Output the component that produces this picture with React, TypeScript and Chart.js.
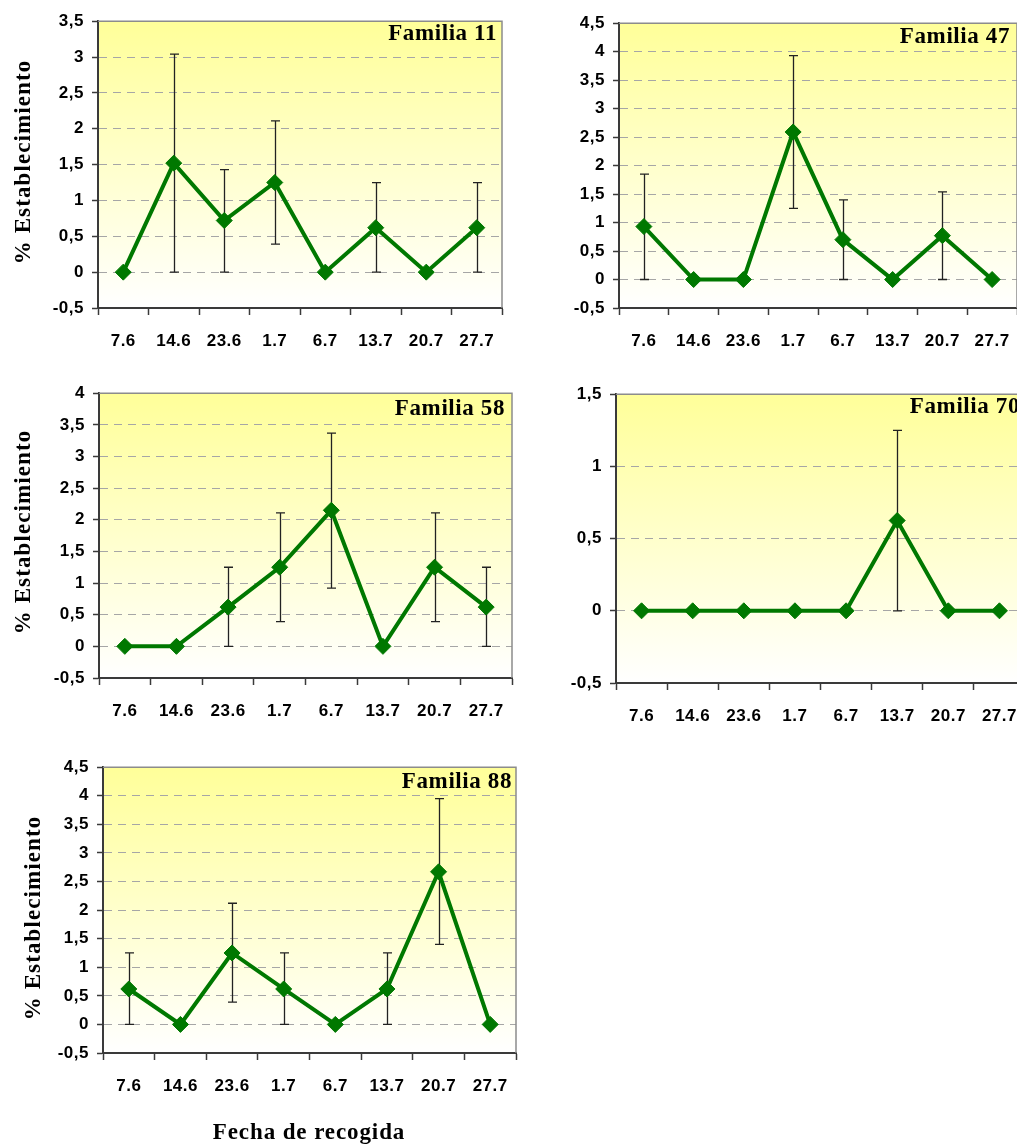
import React, { useEffect, useRef } from "react";
import { Chart, registerables } from "chart.js";
Chart.register(...registerables);

// ---------- DATA ----------
const categories = ["7.6", "14.6", "23.6", "1.7", "6.7", "13.7", "20.7", "27.7"];

const fam11 = [0, 1.52, 0.72, 1.25, 0, 0.62, 0, 0.62];
const fam11Lo = [null, 0, 0, 0.39, null, 0, null, 0];
const fam11Hi = [null, 3.04, 1.43, 2.11, null, 1.25, null, 1.25];

const fam47 = [0.93, 0, 0, 2.59, 0.7, 0, 0.77, 0];
const fam47Lo = [0, null, null, 1.25, 0, null, 0, null];
const fam47Hi = [1.85, null, null, 3.93, 1.4, null, 1.54, null];

const fam58 = [0, 0, 0.62, 1.25, 2.15, 0, 1.25, 0.62];
const fam58Lo = [null, null, 0, 0.39, 0.92, null, 0.39, 0];
const fam58Hi = [null, null, 1.25, 2.11, 3.37, null, 2.11, 1.25];

const fam70 = [0, 0, 0, 0, 0, 0.625, 0, 0];
const fam70Lo = [null, null, null, null, null, 0, null, null];
const fam70Hi = [null, null, null, null, null, 1.25, null, null];

const fam88 = [0.62, 0, 1.25, 0.62, 0, 0.62, 2.67, 0];
const fam88Lo = [0, null, 0.39, 0, null, 0, 1.4, null];
const fam88Hi = [1.25, null, 2.12, 1.25, null, 1.25, 3.95, null];

const yAxisTitle = "% Establecimiento";
const xAxisTitle = "Fecha de recogida";

// ---------- STYLE ----------
const GREEN = "#007800";
const AXIS = "#3a3a3a";
const GRID = "#a6a6a6";
const FRAME = "#8c8c8c";
const SANS = "'Liberation Sans', Arial, sans-serif";
const SERIF = "'Liberation Serif', 'Times New Roman', serif";
const PADT = 14;
const PADR = 14;

type Box = { l: number; t: number; r: number; b: number };
type Spec = {
  title: string;
  values: number[];
  lo: (number | null)[];
  hi: (number | null)[];
  yMin: number;
  yMax: number;
  canvasLeft: number;
  plot: Box;
  bottomSpace: number;
  titleRight: number;
  titleBaseline: number;
  yTitle?: { x: number; y: number };
  xTitle?: { x: number; y: number };
};

const specs: Spec[] = [
  {
    title: "Familia 11", values: fam11, lo: fam11Lo, hi: fam11Hi, yMin: -0.5, yMax: 3.5,
    canvasLeft: 0, plot: { l: 98, t: 17, r: 502, b: 308 }, bottomSpace: 50,
    titleRight: 497, titleBaseline: 40, yTitle: { x: 24, y: 162 },
  },
  {
    title: "Familia 47", values: fam47, lo: fam47Lo, hi: fam47Hi, yMin: -0.5, yMax: 4.5,
    canvasLeft: 520, plot: { l: 619, t: 19, r: 1017, b: 308 }, bottomSpace: 50,
    titleRight: 1010, titleBaseline: 43,
  },
  {
    title: "Familia 58", values: fam58, lo: fam58Lo, hi: fam58Hi, yMin: -0.5, yMax: 4,
    canvasLeft: 0, plot: { l: 99, t: 389, r: 512, b: 678 }, bottomSpace: 50,
    titleRight: 505, titleBaseline: 415, yTitle: { x: 24, y: 532 },
  },
  {
    title: "Familia 70", values: fam70, lo: fam70Lo, hi: fam70Hi, yMin: -0.5, yMax: 1.5,
    canvasLeft: 520, plot: { l: 616, t: 390, r: 1025, b: 683 }, bottomSpace: 50,
    titleRight: 1020, titleBaseline: 413,
  },
  {
    title: "Familia 88", values: fam88, lo: fam88Lo, hi: fam88Hi, yMin: -0.5, yMax: 4.5,
    canvasLeft: 0, plot: { l: 103, t: 763, r: 516, b: 1053 }, bottomSpace: 91,
    titleRight: 512, titleBaseline: 788, yTitle: { x: 34, y: 918 }, xTitle: { x: 309, y: 1139 },
  },
];

function FamChart({ spec }: { spec: Spec }) {
  const ref = useRef<HTMLCanvasElement>(null);
  const cl = spec.canvasLeft;
  const ct = spec.plot.t - PADT;
  const cw = spec.plot.r + PADR - cl;
  const ch = spec.plot.b + spec.bottomSpace - ct;

  useEffect(() => {
    if (!ref.current) return;
    const bgPlugin = {
      id: "bg",
      beforeDraw(chart: any) {
        const { ctx, chartArea: a } = chart;
        const g = ctx.createLinearGradient(0, a.top, 0, a.bottom);
        g.addColorStop(0, "#FFFF99");
        g.addColorStop(1, "#FFFFFF");
        ctx.save();
        ctx.fillStyle = g;
        ctx.fillRect(a.left, a.top, a.right - a.left, a.bottom - a.top);
        ctx.restore();
        (ctx as any).letterSpacing = "0.5px";
      },
      beforeDatasetsDraw(chart: any) {
        const { ctx, chartArea: a, scales } = chart;
        (ctx as any).letterSpacing = "0px";
        ctx.save();
        ctx.strokeStyle = FRAME;
        ctx.lineWidth = 1.5;
        ctx.beginPath();
        ctx.moveTo(a.left, a.top);
        ctx.lineTo(a.right, a.top);
        ctx.lineTo(a.right, a.bottom);
        ctx.stroke();
        // error bars
        ctx.strokeStyle = "#222";
        ctx.lineWidth = 1.3;
        for (let i = 0; i < spec.values.length; i++) {
          const lo = spec.lo[i];
          const hi = spec.hi[i];
          if (lo === null || hi === null) continue;
          const x = Math.round(scales.x.getPixelForValue(i)) + 0.5;
          const y1 = scales.y.getPixelForValue(lo);
          const y2 = scales.y.getPixelForValue(hi);
          ctx.beginPath();
          ctx.moveTo(x, y1);
          ctx.lineTo(x, y2);
          ctx.moveTo(x - 4.5, y1);
          ctx.lineTo(x + 4.5, y1);
          ctx.moveTo(x - 4.5, y2);
          ctx.lineTo(x + 4.5, y2);
          ctx.stroke();
        }
        ctx.restore();
      },
      afterDraw(chart: any) {
        const { ctx } = chart;
        ctx.save();
        (ctx as any).letterSpacing = "0.6px";
        ctx.fillStyle = "#000";
        ctx.font = `bold 23px ${SERIF}`;
        ctx.textAlign = "right";
        ctx.textBaseline = "alphabetic";
        ctx.fillText(spec.title, spec.titleRight - cl, spec.titleBaseline - ct);
        if (spec.yTitle) {
          (ctx as any).letterSpacing = "1.1px";
          ctx.save();
          ctx.translate(spec.yTitle.x - cl, spec.yTitle.y - ct);
          ctx.rotate(-Math.PI / 2);
          ctx.textAlign = "center";
          ctx.textBaseline = "middle";
          ctx.fillText(yAxisTitle, 0, 0);
          ctx.restore();
        }
        if (spec.xTitle) {
          (ctx as any).letterSpacing = "0.9px";
          ctx.textAlign = "center";
          ctx.textBaseline = "alphabetic";
          ctx.fillText(xAxisTitle, spec.xTitle.x - cl, spec.xTitle.y - ct);
        }
        (ctx as any).letterSpacing = "0px";
        ctx.restore();
      },
    };

    const chart = new Chart(ref.current, {
      type: "line",
      data: {
        labels: categories,
        datasets: [
          {
            data: spec.values,
            borderColor: GREEN,
            backgroundColor: GREEN,
            borderWidth: 4,
            pointStyle: "rectRot",
            pointRadius: 8,
            pointBorderWidth: 1,
            pointBackgroundColor: GREEN,
            pointBorderColor: GREEN,
            tension: 0,
            fill: false,
            clip: false,
          } as any,
        ],
      },
      options: {
        responsive: false,
        animation: false,
        devicePixelRatio: 1,
        layout: { padding: { top: PADT, right: PADR, left: 0, bottom: 0 } },
        plugins: {
          legend: { display: false },
          tooltip: { enabled: false },
          title: { display: false },
        },
        scales: {
          x: {
            type: "category",
            offset: true,
            grid: {
              offset: true,
              drawOnChartArea: false,
              drawTicks: true,
              tickLength: 7,
              tickColor: AXIS,
              tickWidth: 1.5,
            },
            border: { display: true, color: AXIS, width: 2 },
            ticks: {
              font: { family: SANS, size: 17, weight: "bold" },
              color: "#000",
              padding: 16,
              maxRotation: 0,
              autoSkip: false,
            },
            afterFit: (s: any) => {
              s.height = spec.bottomSpace;
            },
          },
          y: {
            type: "linear",
            min: spec.yMin,
            max: spec.yMax,
            ticks: {
              stepSize: 0.5,
              callback: (v: any) => String(v).replace(".", ","),
              font: { family: SANS, size: 17, weight: "bold" },
              color: "#000",
              padding: 8,
            },
            grid: {
              color: GRID,
              lineWidth: 1,
              drawTicks: true,
              tickLength: 6,
              tickColor: AXIS,
              tickWidth: 1.5,
            },
            border: { display: true, color: AXIS, width: 2, dash: [8, 6] },
            afterFit: (s: any) => {
              s.width = spec.plot.l - cl;
            },
          },
        },
      } as any,
      plugins: [bgPlugin],
    });
    return () => chart.destroy();
  }, []);

  return (
    <canvas
      ref={ref}
      width={cw}
      height={ch}
      style={{ position: "absolute", left: cl, top: ct, width: cw, height: ch }}
    />
  );
}

export default function App() {
  return (
    <div
      style={{
        position: "fixed",
        left: 0,
        top: 0,
        width: 1017,
        height: 1144,
        overflow: "hidden",
        background: "#fff",
      }}
    >
      {specs.map((s, i) => (
        <FamChart key={i} spec={s} />
      ))}
    </div>
  );
}
